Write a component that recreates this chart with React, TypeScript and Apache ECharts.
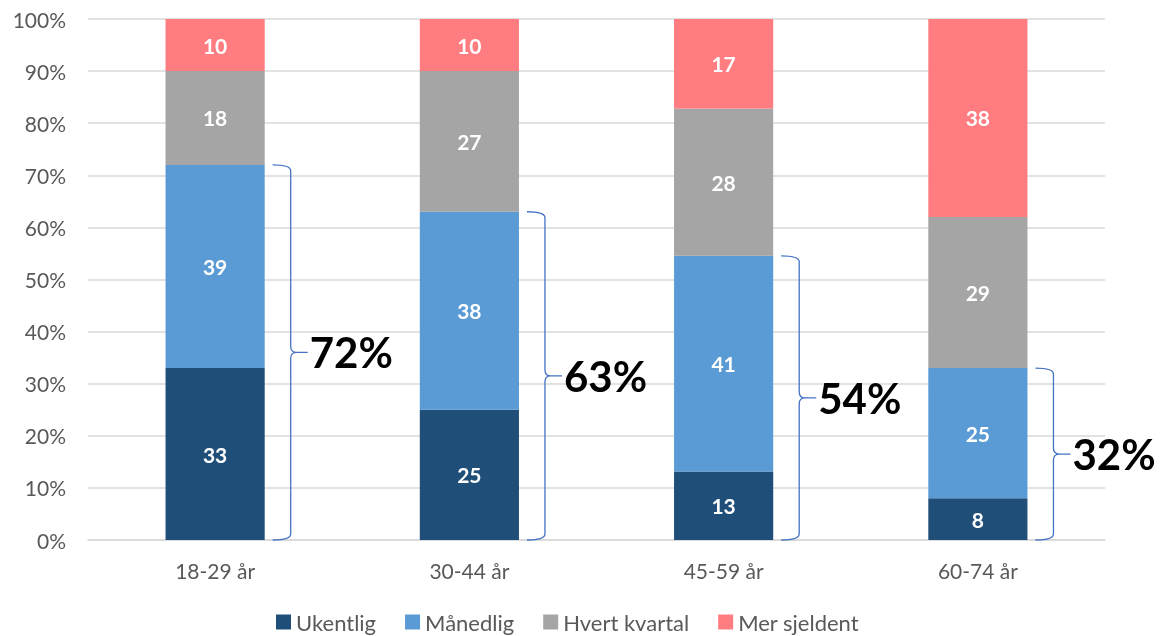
import React, { useEffect, useRef } from "react";
import * as echarts from "echarts";

const categories = ["18-29 år", "30-44 år", "45-59 år", "60-74 år"];
const ukentlig = [33, 25, 13, 8];
const maanedlig = [39, 38, 41, 25];
const hvertKvartal = [18, 27, 28, 29];
const merSjeldent = [10, 10, 17, 38];
const braceLabels = ["72%", "63%", "54%", "32%"];
const yTicks = [0, 10, 20, 30, 40, 50, 60, 70, 80, 90, 100];

const seriesNames = ["Ukentlig", "Månedlig", "Hvert kvartal", "Mer sjeldent"];
const seriesValues = [ukentlig, maanedlig, hvertKvartal, merSjeldent];
const colors = ["#1F4E79", "#5B9BD5", "#A5A5A5", "#FF7C80"];

const FONT = "Lato, 'Open Sans', sans-serif";

export default function App() {
  const ref = useRef<HTMLDivElement>(null);
  useEffect(() => {
    if (!ref.current) return;
    const chart = echarts.init(ref.current, undefined, { renderer: "svg" });
    const totals = categories.map((_, i) =>
      seriesValues.reduce((s, arr) => s + arr[i], 0)
    );
    const norm = (arr: number[]) => arr.map((v, i) => (v / totals[i]) * 100);

    const barSeries = seriesNames.map((name, k) => ({
      name,
      type: "bar",
      stack: "total",
      barWidth: "39%",
      itemStyle: { color: colors[k] },
      label: {
        show: true,
        position: "inside",
        color: "#fff",
        fontWeight: "bold",
        fontSize: 21,
        fontFamily: FONT,
        formatter: (p: any) => String(seriesValues[k][p.dataIndex]),
      },
      data: norm(seriesValues[k]),
    }));

    const braceData = categories.map((_, i) => [
      i,
      ((ukentlig[i] + maanedlig[i]) / totals[i]) * 100,
    ]);

    const braceSeries = {
      name: "brace",
      type: "custom",
      coordinateSystem: "cartesian2d",
      clip: false,
      silent: true,
      encode: { x: 0, y: 1 },
      data: braceData,
      renderItem: (params: any, api: any) => {
        const idx = api.value(0);
        const top = api.value(1);
        const pTop = api.coord([idx, top]);
        const pBot = api.coord([idx, 0]);
        const band = api.size([1, 0])[0];
        const barRight = pTop[0] + band * 0.195;
        const left = barRight + 8;
        const vx = barRight + 26;
        const tip = barRight + 43;
        const yT = pTop[1];
        const yB = pBot[1];
        const yM = (yT + yB) / 2;
        const d =
          `M${left},${yT} Q${vx},${yT} ${vx},${yT + 6} ` +
          `L${vx},${yM - 6} Q${vx},${yM} ${vx + 6},${yM} L${tip},${yM} ` +
          `M${vx + 6},${yM} Q${vx},${yM} ${vx},${yM + 6} ` +
          `L${vx},${yB - 6} Q${vx},${yB} ${left},${yB}`;
        return {
          type: "group",
          children: [
            {
              type: "path",
              shape: { pathData: d },
              style: { stroke: "#4472C4", lineWidth: 1.3, fill: "none" },
            },
            {
              type: "text",
              x: tip + 2,
              y: yM,
              style: {
                text: braceLabels[params.dataIndex],
                fontSize: 42,
                fontWeight: "bold",
                fontFamily: FONT,
                fill: "#000",
                align: "left",
                verticalAlign: "middle",
              },
            },
          ],
        };
      },
    };

    chart.setOption({
      animation: false,
      textStyle: { fontFamily: FONT },
      grid: { left: 88, right: 58, top: 19, bottom: 96 },
      legend: {
        data: seriesNames,
        top: 611,
        left: 276,
        padding: 0,
        icon: "rect",
        itemWidth: 15,
        itemHeight: 15,
        itemGap: 29,
        textStyle: { fontSize: 22, color: "#595959", fontFamily: FONT },
      },
      xAxis: {
        type: "category",
        data: categories,
        axisLine: { lineStyle: { color: "#D9D9D9", width: 1.5 } },
        axisTick: { show: false },
        axisLabel: { fontSize: 21, color: "#595959", margin: 20, fontFamily: FONT },
      },
      yAxis: {
        type: "value",
        min: yTicks[0],
        max: yTicks[yTicks.length - 1],
        interval: 10,
        axisLine: { show: false },
        axisTick: { show: false },
        splitLine: { lineStyle: { color: "#D9D9D9", width: 1.5 } },
        axisLabel: {
          fontSize: 21,
          color: "#595959",
          margin: 22,
          fontFamily: FONT,
          formatter: (v: number) => `${v}%`,
        },
      },
      series: [...barSeries, braceSeries],
    });
    return () => chart.dispose();
  }, []);
  return (
    <div
      ref={ref}
      style={{ position: "fixed", left: 0, top: 0, width: 1163, height: 636 }}
    />
  );
}
